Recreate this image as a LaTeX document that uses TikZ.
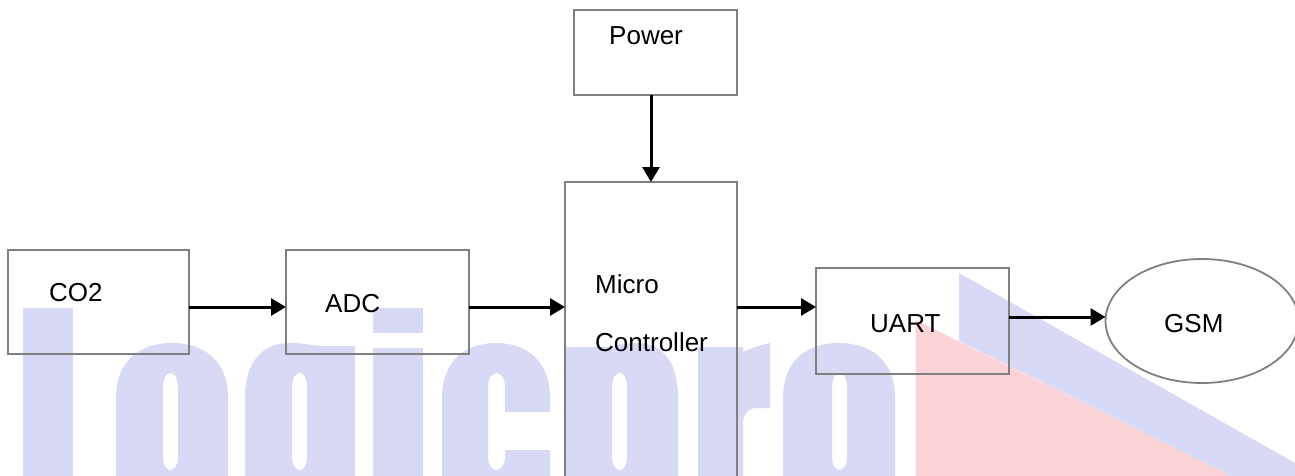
\documentclass[tikz,border=0pt]{standalone}
\usepackage{fontspec}
\setmainfont{Liberation Sans}
\usetikzlibrary{arrows.meta,shapes.geometric,calc}
\definecolor{wmblue}{HTML}{D8DAF5}
\definecolor{wmpink}{HTML}{FDD2D6}
\definecolor{edgegrey}{HTML}{808080}
\tikzset{
  blockbox/.style={draw=edgegrey,line width=1.8pt,rectangle,inner sep=0pt,outer sep=0pt,anchor=north west},
  oval/.style={draw=edgegrey,line width=1.8pt,ellipse,inner sep=0pt,outer sep=0pt},
  conn/.style={draw=black,line width=3pt,-{Triangle[length=15pt,width=17pt]}},
  lbl/.style={font=\fontsize{26}{30}\selectfont,inner sep=0pt,anchor=base west,text=black},
  wm/.style={fill=wmblue,draw=none,even odd rule}
}
% hole of a letter: hole left, hole right
\newcommand{\wmhole}[2]{%
  (#1,458) -- (#1,388) .. controls (#1,378) and ({(#1+#2)/2-4},373) .. ({(#1+#2)/2},373)
    .. controls ({(#1+#2)/2+4},373) and (#2,378) .. (#2,388) -- (#2,458)
    .. controls (#2,465) and ({(#1+#2)/2+4},470) .. ({(#1+#2)/2},470)
    .. controls ({(#1+#2)/2-4},470) and (#1,465) .. (#1,458) -- cycle}
% arch-topped letter: left, right, hole left, hole right
\newcommand{\wmarch}[4]{%
  \fill[wm] (#1,500) -- (#1,398) .. controls (#1,362) and ({#1+(#2-#1)*0.2},343) .. ({(#1+#2)/2},343)
    .. controls ({#2-(#2-#1)*0.2},343) and (#2,362) .. (#2,398) -- (#2,500) -- cycle
    \wmhole{#3}{#4};}
\begin{document}
\begin{tikzpicture}[x=1pt,y=-1pt]
\useasboundingbox (0,0) rectangle (1295,476);
\fill[white] (0,0) rectangle (1295,476);
% watermark
\fill[wmpink] (915.5,320) -- (1231,476) -- (915.5,476) -- cycle;
\fill[wmblue] (959,273) -- (1295,463) -- (1295,476) -- (1231,476) -- (959,341) -- cycle;
\fill[wmblue] (23,308) rectangle (73,476);
\wmarch{116}{228}{163}{178}
% g: round left, square right
\fill[wm] (245,500) -- (245,398) .. controls (245,362) and (262,343) .. (290,343)
  .. controls (305,343) and (315,346) .. (320,346) -- (355,346) -- (355,500) -- cycle
  \wmhole{292}{307};
\fill[wmblue] (373,308) rectangle (423,333);
\fill[wmblue] (373,348) rectangle (423,476);
% c
\fill[wm] (442,500) -- (442,398) .. controls (442,362) and (464,343) .. (496,343)
  .. controls (528,343) and (550,362) .. (550,398) -- (550,412) -- (505,412) -- (505,388)
  .. controls (505,378) and (501,373) .. (496.5,373) .. controls (492,373) and (488,378) .. (488,388)
  -- (488,458) .. controls (488,465) and (492,470) .. (496.5,470) .. controls (501,470) and (505,465) .. (505,458)
  -- (505,450) -- (550,450) -- (550,500) -- cycle;
% n
\fill[wm] (565,500) -- (565,347) -- (610,347) .. controls (620,344) and (630,343) .. (640,343)
  .. controls (665,345) and (678,365) .. (678,398) -- (678,500) -- cycle
  \wmhole{612}{627};
% r
\fill[wm] (698,476) -- (698,347) -- (743,347) -- (743,352) .. controls (750,349) and (760,345) .. (770,343)
  -- (770,408) -- (757,408) .. controls (748,408) and (743,414) .. (743,424) -- (743,476) -- cycle;
\wmarch{783}{895}{832}{847}
% blocks
\node[blockbox,minimum width=163pt,minimum height=85pt] (power) at (574,10) {};
\node[blockbox,minimum width=172pt,minimum height=308pt] (mcu) at (565,182) {};
\node[blockbox,minimum width=181pt,minimum height=104pt] (co2) at (8,250) {};
\node[blockbox,minimum width=183pt,minimum height=104pt] (adc) at (286,250) {};
\node[blockbox,minimum width=193pt,minimum height=106pt] (uart) at (816,268) {};
\node[oval,minimum width=193pt,minimum height=124pt] (gsm) at (1202,321) {};
% labels
\node[lbl] (tpower) at (609,45) {Power};
\node[lbl] (tco2) at (49,301) {CO2};
\node[lbl] (tadc) at (325,312) {ADC};
\node[lbl] (tmicro) at (595,293) {Micro};
\node[lbl] (tctrl) at (595,351) {Controller};
\node[lbl] (tuart) at (870,332) {UART};
\node[lbl] (tgsm) at (1164,332) {GSM};
% connectors
\draw[conn] ([xshift=-4.5pt]power.south) -- (mcu.north);
\draw[conn] ([yshift=-5pt]co2.east) -- ([yshift=-5pt]adc.west);
\draw[conn] ([yshift=-5pt]adc.east) -- ([yshift=29pt]mcu.west);
\draw[conn] ([yshift=29pt]mcu.east) -- ([yshift=14pt]uart.west);
\draw[conn] ([yshift=4pt]uart.east) -- ([yshift=4pt]gsm.west);
\end{tikzpicture}
\end{document}
